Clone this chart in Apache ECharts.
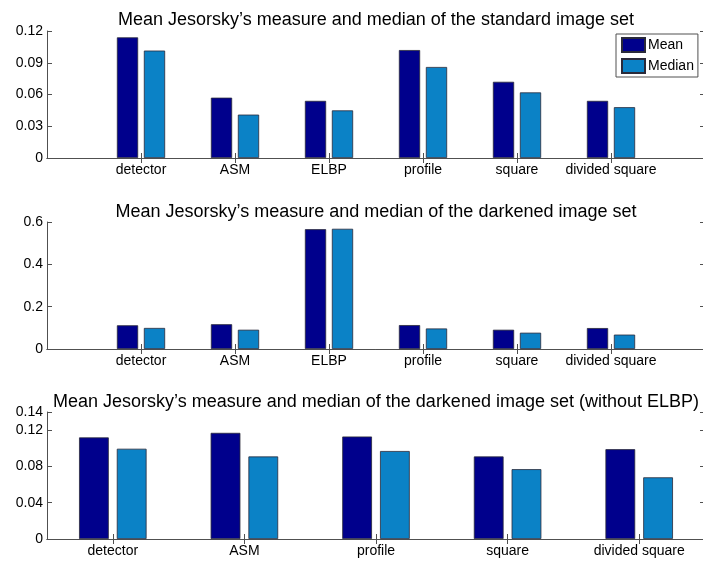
<!DOCTYPE html>
<html>
<head>
<meta charset="utf-8">
<script src="https://cdn.jsdelivr.net/npm/echarts@6/dist/echarts.min.js"></script>
<style>
  html, body { margin: 0; padding: 0; background: #fff; }
  #chart { width: 703px; height: 563px; }
</style>
</head>
<body>
<div id="chart"></div>
<script>
// Methods compared on the full image sets
const methodsAll = ['detector', 'ASM', 'ELBP', 'profile', 'square', 'divided square'];
// Methods compared without ELBP
const methodsNoElbp = ['detector', 'ASM', 'profile', 'square', 'divided square'];

// Standard image set
const standardMean = [0.114, 0.057, 0.054, 0.102, 0.072, 0.054];
const standardMedian = [0.1015, 0.041, 0.045, 0.086, 0.062, 0.048];

// Darkened image set
const darkMean = [0.112, 0.117, 0.566, 0.113, 0.091, 0.099];
const darkMedian = [0.0995, 0.091, 0.568, 0.097, 0.077, 0.068];

// Y tick values of each panel
const yTicksStandard = [0, 0.03, 0.06, 0.09, 0.12];
const yTicksDark = [0, 0.2, 0.4, 0.6];
const yTicksNoElbp = [0, 0.04, 0.08, 0.12, 0.14];

const titles = [
  'Mean Jesorsky\u2019s measure and median of the standard image set',
  'Mean Jesorsky\u2019s measure and median of the darkened image set',
  'Mean Jesorsky\u2019s measure and median of the darkened image set (without ELBP)'
];

const FONT = "'Liberation Sans', Arial, Helvetica, sans-serif";
const AXIS_COLOR = '#505050';
const MEAN_COLOR = '#00008c';
const MEDIAN_COLOR = '#0b82c6';

// Panels 1 and 2 span x from 0 to 7 with methods at 1..6: pad with empty slots.
const padCats = c => [''].concat(c, ['']);
const padVals = v => [null].concat(v, [null]);

// Darkened values without the ELBP entry
const skipElbp = arr => arr.filter((_, i) => methodsAll[i] !== 'ELBP');

const panels = [
  { cats: padCats(methodsAll), mean: padVals(standardMean), median: padVals(standardMedian),
    ticks: yTicksStandard, onBand: false, top: 31 },
  { cats: padCats(methodsAll), mean: padVals(darkMean), median: padVals(darkMedian),
    ticks: yTicksDark, onBand: false, top: 222 },
  { cats: methodsNoElbp, mean: skipElbp(darkMean), median: skipElbp(darkMedian),
    ticks: yTicksNoElbp, onBand: true, top: 412 }
];

const fmt = v => String(+(+v).toFixed(3));

const grid = [], xAxis = [], yAxis = [], series = [], title = [];
const titleTops = [6, 198, 388];

panels.forEach((p, k) => {
  grid.push({ left: 47, right: -2, top: p.top, height: 127, show: false,
    containLabel: false, outerBoundsMode: 'none' });
  title.push({
    text: titles[k], left: 371, top: titleTops[k], textAlign: 'center',
    textStyle: { fontFamily: FONT, fontSize: 18, fontWeight: 'normal', color: '#000' }
  });
  const tickInterval = (i, v) => v !== '';
  // bottom axis with labels
  xAxis.push({
    type: 'category', gridIndex: k, data: p.cats, boundaryGap: p.onBand, position: 'bottom',
    axisLine: { show: true, lineStyle: { color: AXIS_COLOR, width: 1 } },
    axisTick: { show: true, inside: true, length: 5, alignWithLabel: true, interval: tickInterval,
      lineStyle: { color: AXIS_COLOR } },
    axisLabel: { show: true, interval: 0, margin: 5, color: '#000', fontFamily: FONT, fontSize: 14 },
    splitLine: { show: false }
  });
  // top frame with ticks
  xAxis.push({
    type: 'category', gridIndex: k, data: p.cats, boundaryGap: p.onBand, position: 'top',
    axisLine: { show: true, lineStyle: { color: AXIS_COLOR, width: 1 } },
    axisTick: { show: true, inside: true, length: 5, alignWithLabel: true, interval: tickInterval,
      lineStyle: { color: AXIS_COLOR } },
    axisLabel: { show: false }, splitLine: { show: false }
  });
  const yMax = p.ticks[p.ticks.length - 1];
  yAxis.push({
    type: 'value', gridIndex: k, min: 0, max: yMax, position: 'left',
    axisLine: { show: true, lineStyle: { color: AXIS_COLOR, width: 1 } },
    axisTick: { show: true, inside: true, length: 5, customValues: p.ticks, lineStyle: { color: AXIS_COLOR } },
    axisLabel: { show: true, customValues: p.ticks, formatter: fmt, margin: 4,
      color: '#000', fontFamily: FONT, fontSize: 14 },
    splitLine: { show: false }
  });
  yAxis.push({
    type: 'value', gridIndex: k, min: 0, max: yMax, position: 'right',
    axisLine: { show: true, lineStyle: { color: AXIS_COLOR, width: 1 } },
    axisTick: { show: true, inside: true, length: 5, customValues: p.ticks, lineStyle: { color: AXIS_COLOR } },
    axisLabel: { show: false }, splitLine: { show: false }
  });
  const xi = k * 2, yi = k * 2;
  series.push({
    name: 'Mean', type: 'bar', xAxisIndex: xi, yAxisIndex: yi, data: p.mean,
    barWidth: '22.6%', barGap: '27%',
    itemStyle: { color: MEAN_COLOR, borderColor: '#2a2a3a', borderWidth: 0.8 },
    emphasis: { disabled: true }, animation: false
  });
  series.push({
    name: 'Median', type: 'bar', xAxisIndex: xi, yAxisIndex: yi, data: p.median,
    barWidth: '22.6%', barGap: '27%',
    itemStyle: { color: MEDIAN_COLOR, borderColor: '#2a2a3a', borderWidth: 0.8 },
    emphasis: { disabled: true }, animation: false
  });
});

const chart = echarts.init(document.getElementById('chart'), null, { renderer: 'canvas' });
chart.setOption({
  backgroundColor: '#fff',
  animation: false,
  title: title,
  grid: grid,
  xAxis: xAxis,
  yAxis: yAxis,
  legend: {
    data: ['Mean', 'Median'], orient: 'vertical', left: 616, top: 34,
    itemWidth: 23, itemHeight: 14, itemGap: 5, icon: 'rect',
    padding: [3, 4, 3, 5], borderColor: '#505050', borderWidth: 1, backgroundColor: '#fff',
    textStyle: { fontFamily: FONT, fontSize: 14, color: '#000', padding: [0, 0, 0, -2] },
    selectedMode: false
  },
  series: series
});
</script>
</body>
</html>
